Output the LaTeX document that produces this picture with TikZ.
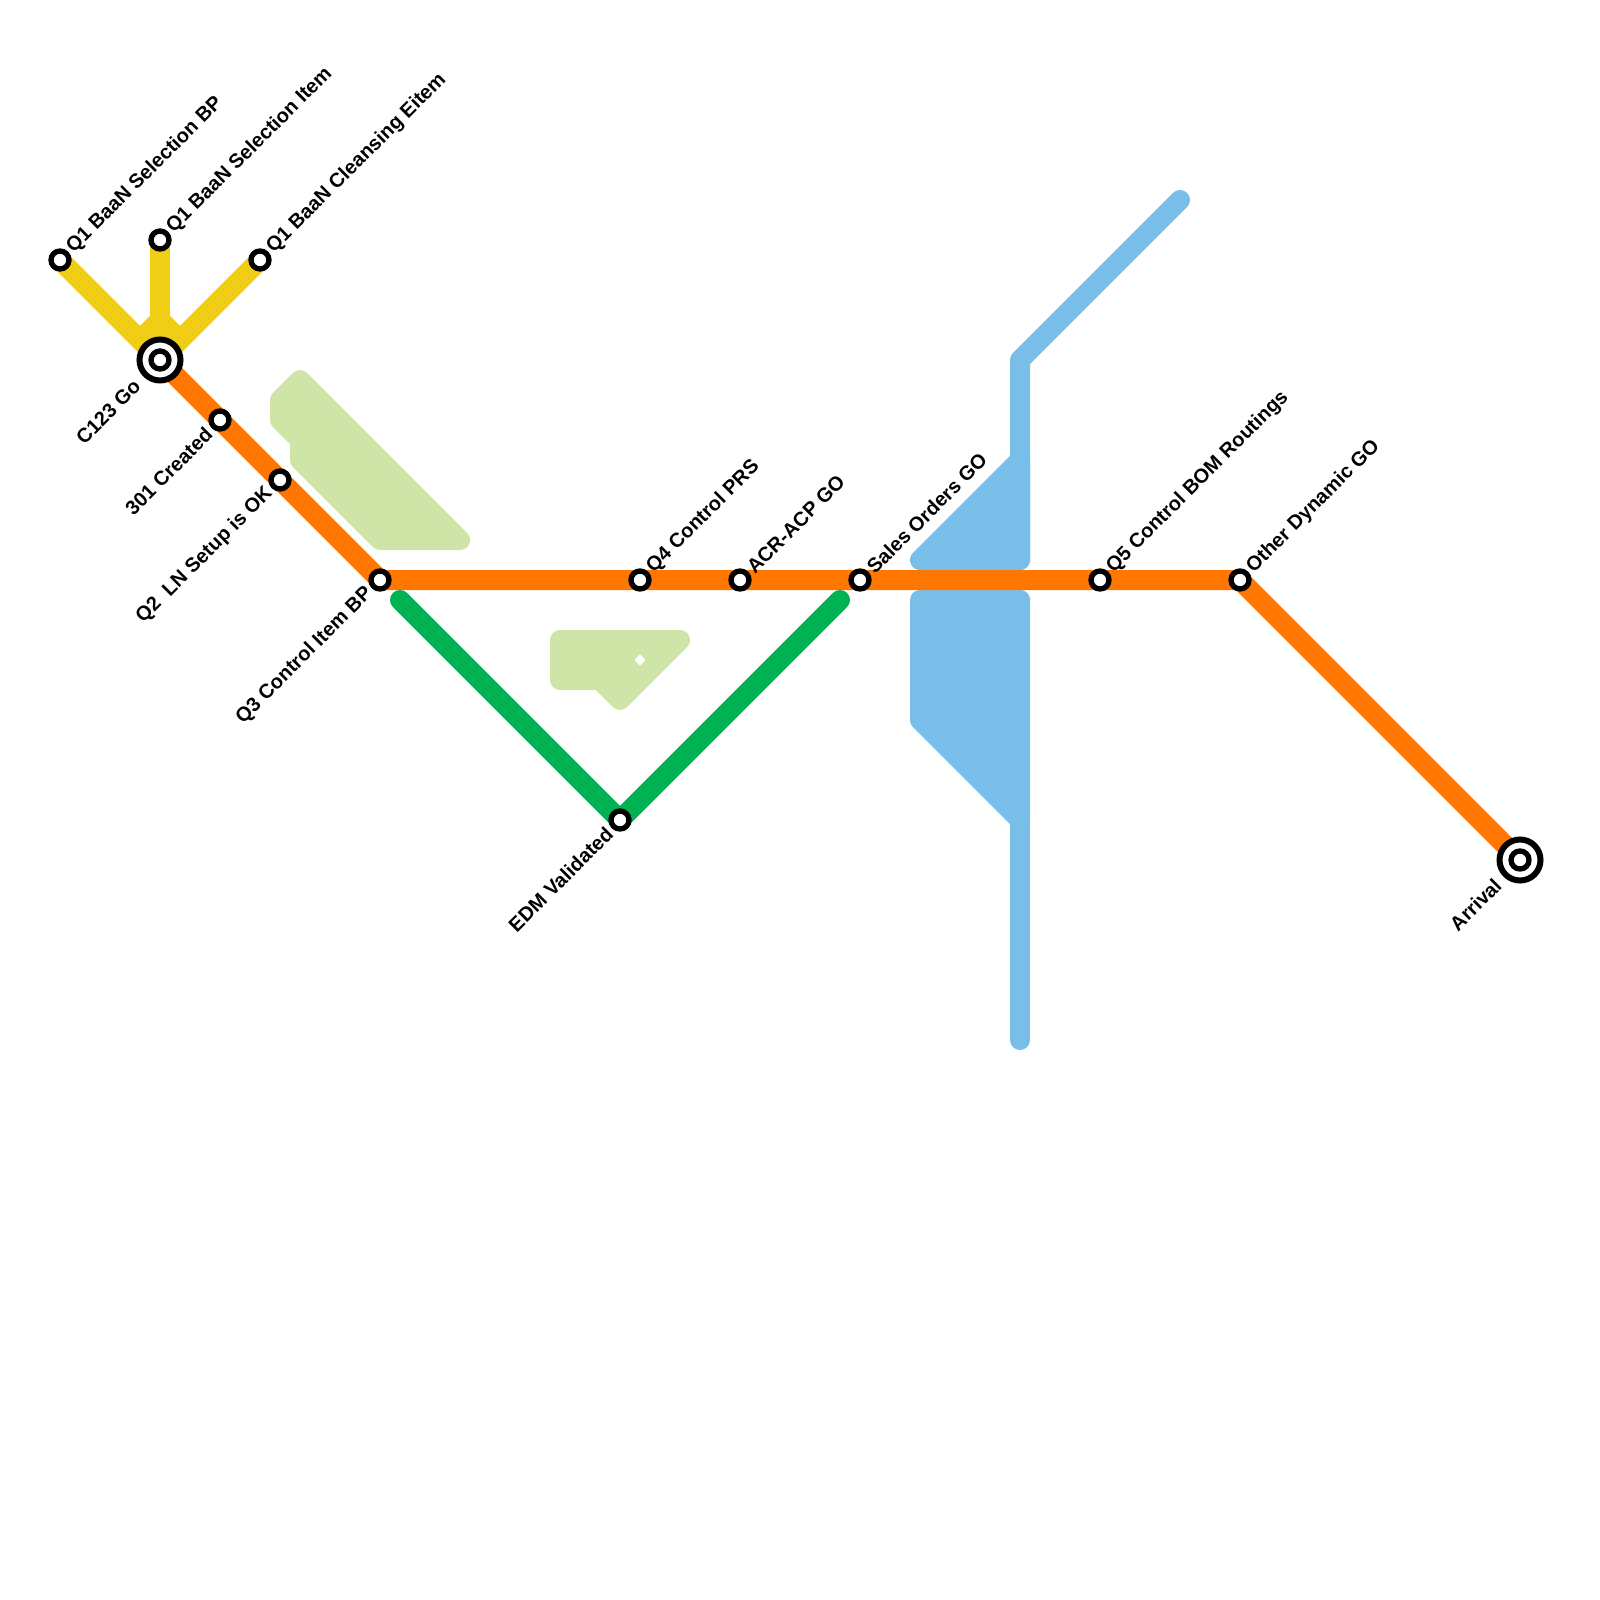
\documentclass[tikz,border=0pt]{standalone}
\usepackage{fontspec}
\setmainfont{Liberation Sans}
\definecolor{cy}{HTML}{F0CE15}
\definecolor{co}{HTML}{FF7700}
\definecolor{cg}{HTML}{00B251}
\definecolor{cb}{HTML}{79BDE9}
\definecolor{cl}{HTML}{CFE4A7}
\tikzset{
 x=1pt,y=-1pt,
 metro/.style={line width=20pt,line join=round},
 area/.style={line width=20pt,line join=round,fill},
 stn/.style={circle,draw=black,fill=white,line width=5.33pt,minimum size=18pt,inner sep=0pt},
 hub/.style={circle,draw=black,fill=white,line width=6pt,minimum size=41pt,inner sep=0pt},
 up/.style={rotate=45,anchor=west,font=\fontsize{20}{20}\selectfont\bfseries,inner sep=0pt},
 dn/.style={rotate=45,anchor=east,font=\fontsize{20}{20}\selectfont\bfseries,inner sep=0pt},
}
\begin{document}
\begin{tikzpicture}
\useasboundingbox (0,0) rectangle (1600,1600);
% stations
\coordinate (pa) at (60,260);
\coordinate (pb) at (160,240);
\coordinate (pc) at (260,260);
\coordinate (pd) at (160,360);
\coordinate (pe) at (220,420);
\coordinate (pf) at (280,480);
\coordinate (pg) at (380,580);
\coordinate (ph) at (640,580);
\coordinate (pi) at (740,580);
\coordinate (pj) at (860,580);
\coordinate (pk) at (1100,580);
\coordinate (pl) at (1240,580);
\coordinate (pm) at (1520,860);
\coordinate (pn) at (620,820);
\coordinate (gs) at (400,600);
\coordinate (ge) at (840,600);
\coordinate (bs) at (1020,1040);
\coordinate (bt) at (1020,600);
\coordinate (bu) at (1020,560);
\coordinate (bm) at (1020,360);
\coordinate (be) at (1180,200);
\coordinate (yj) at (160,320);
\coordinate (yl) at (140,340);
\coordinate (yr) at (180,340);
% areas
\draw[area,draw=cl,fill=cl] (300,380)--(460,540)--(380,540)--(300,460)--(300,440)--(280,420)--(280,400)--cycle;
\draw[area,draw=cl,fill=cl] (560,640)--(680,640)--(620,700)--(600,680)--(560,680)--cycle;
\fill[white] (640,654.3)--(645.7,660)--(640,665.7)--(634.3,660)--cycle;
\draw[area,draw=cb,fill=cb] (920,560)--(1020,460)--(1020,560)--cycle;
\draw[area,draw=cb,fill=cb] (920,600)--(1020,600)--(1020,820)--(920,720)--cycle;
% lines
\draw[metro,draw=cb,line cap=round] (bs)--(bt);
\draw[metro,draw=cb,line cap=round] (bu)--(bm)--(be);
\draw[metro,draw=cg,line cap=round] (gs)--(pn)--(ge);
\draw[metro,draw=cy] (pa)--(pd);
\draw[metro,draw=cy] (pb)--(pd);
\draw[metro,draw=cy] (pc)--(pd);
\draw[metro,draw=cy] (yl)--(yj)--(yr);
\draw[metro,draw=co] (pd)--(pg)--(pl)--(pm);
% stations
\node[stn] (a) at (pa) {};
\node[stn] (b) at (pb) {};
\node[stn] (c) at (pc) {};
\node[hub] (d) at (pd) {};
\node[stn] (d2) at (pd) {};
\node[stn] (e) at (pe) {};
\node[stn] (f) at (pf) {};
\node[stn] (g) at (pg) {};
\node[stn] (h) at (ph) {};
\node[stn] (i) at (pi) {};
\node[stn] (j) at (pj) {};
\node[stn] (k) at (pk) {};
\node[stn] (l) at (pl) {};
\node[hub] (m) at (pm) {};
\node[stn] (m2) at (pm) {};
\node[stn] (n) at (pn) {};
% labels
\node[up] at ([shift={(10,-10)}]pa) {Q1 BaaN Selection BP};
\node[up] at ([shift={(10,-10)}]pb) {Q1 BaaN Selection Item};
\node[up] at ([shift={(10,-10)}]pc) {Q1 BaaN Cleansing Eitem};
\node[up] at ([shift={(10,-10)}]ph) {Q4 Control PRS};
\node[up] at ([shift={(10,-10)}]pi) {ACR-ACP GO};
\node[up] at ([shift={(10,-10)}]pj) {Sales Orders GO};
\node[up] at ([shift={(10,-10)}]pk) {Q5 Control BOM Routings};
\node[up] at ([shift={(10,-10)}]pl) {Other Dynamic GO};
\node[dn] at ([shift={(-23,23)}]pd) {C123 Go};
\node[dn] at ([shift={(-11,11)}]pe) {301 Created};
\node[dn] at ([shift={(-10.5,10.5)}]pf) {Q2\ \ LN Setup is OK};
\node[dn] at ([shift={(-10.5,10.5)}]pg) {Q3 Control Item BP};
\node[dn] at ([shift={(-10.5,10.5)}]pn) {EDM Validated};
\node[dn] at ([shift={(-22,22)}]pm) {Arrival};
\end{tikzpicture}
\end{document}
